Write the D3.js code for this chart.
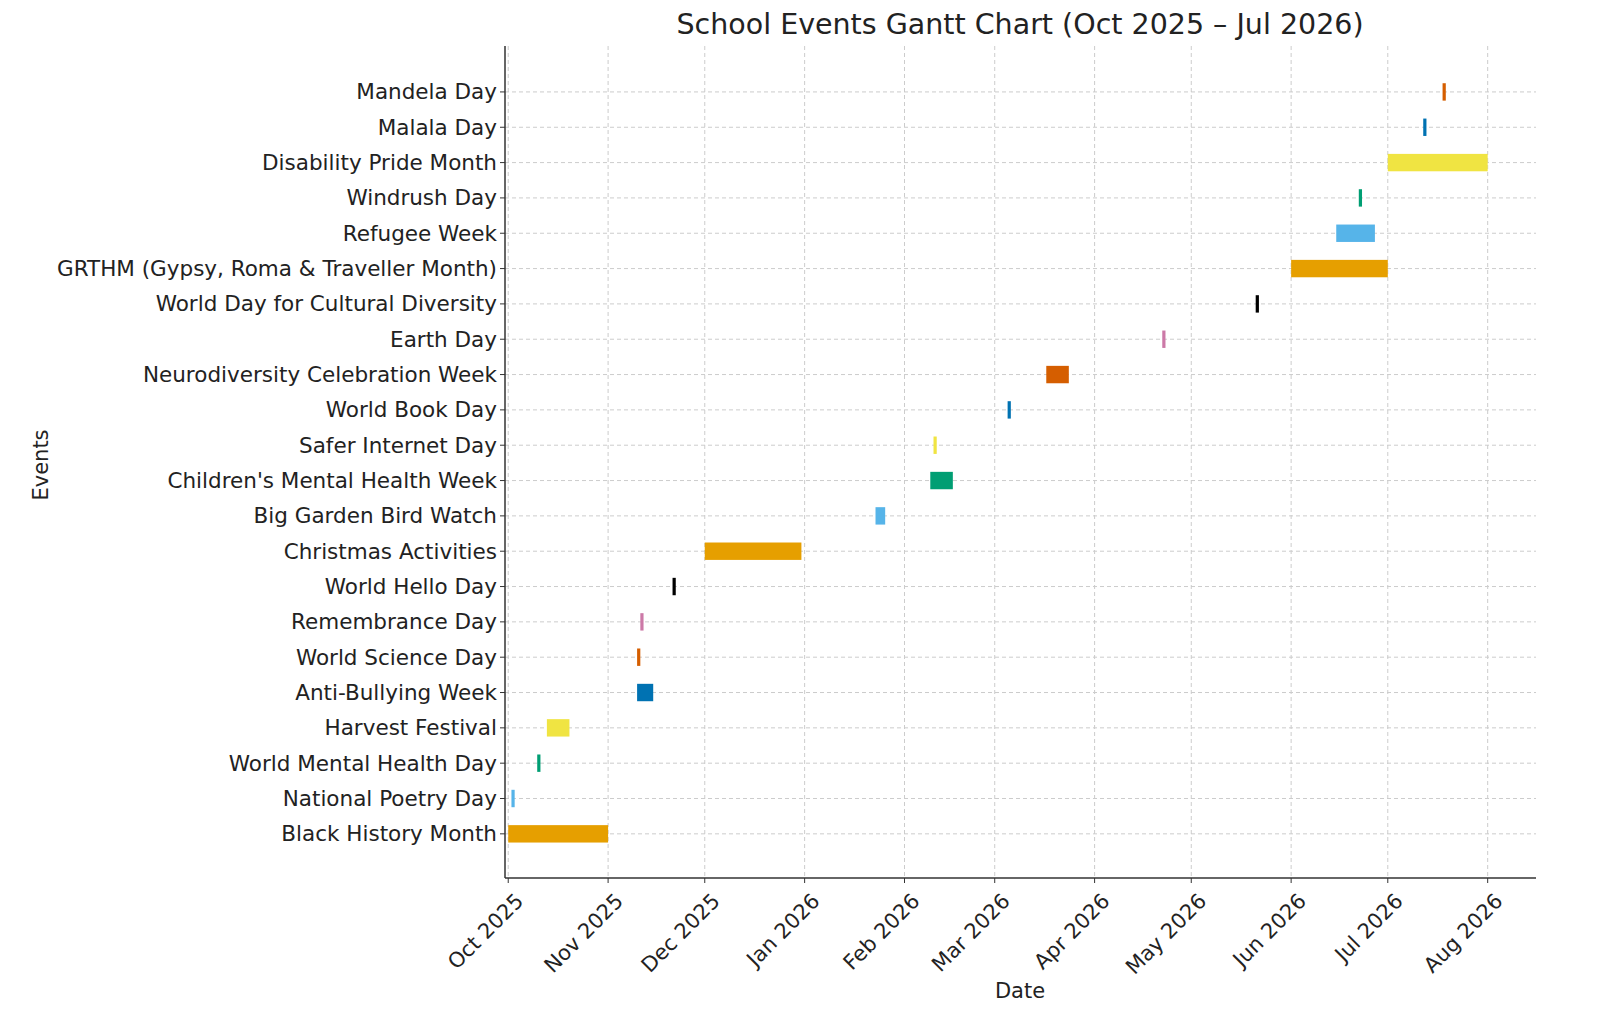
<!DOCTYPE html><html><head><meta charset="utf-8">
<script src="https://cdn.jsdelivr.net/npm/d3@7"></script>
<style>body{margin:0;background:#fff}text{font-family:"DejaVu Sans",sans-serif;fill:#222}</style></head><body>
<svg id="c" width="1600" height="1009"></svg>
<script>
const events=["Black History Month","National Poetry Day","World Mental Health Day","Harvest Festival","Anti-Bullying Week","World Science Day","Remembrance Day","World Hello Day","Christmas Activities","Big Garden Bird Watch","Children's Mental Health Week","Safer Internet Day","World Book Day","Neurodiversity Celebration Week","Earth Day","World Day for Cultural Diversity","GRTHM (Gypsy, Roma & Traveller Month)","Refugee Week","Windrush Day","Disability Pride Month","Malala Day","Mandela Day"];
const starts=["2025-10-01","2025-10-02","2025-10-10","2025-10-13","2025-11-10","2025-11-10","2025-11-11","2025-11-21","2025-12-01","2026-01-23","2026-02-09","2026-02-10","2026-03-05","2026-03-17","2026-04-22","2026-05-21","2026-06-01","2026-06-15","2026-06-22","2026-07-01","2026-07-12","2026-07-18"];
const ends=["2025-11-01","2025-10-03","2025-10-11","2025-10-20","2025-11-15","2025-11-11","2025-11-12","2025-11-22","2025-12-31","2026-01-26","2026-02-16","2026-02-11","2026-03-06","2026-03-24","2026-04-23","2026-05-22","2026-07-01","2026-06-27","2026-06-23","2026-08-01","2026-07-13","2026-07-19"];
const palette=["#E69F00","#56B4E9","#009E73","#F0E442","#0072B2","#D55E00","#CC79A7","#000000"];
const tickLabels=["Oct 2025","Nov 2025","Dec 2025","Jan 2026","Feb 2026","Mar 2026","Apr 2026","May 2026","Jun 2026","Jul 2026","Aug 2026"];
const tickDates=["2025-10-01","2025-11-01","2025-12-01","2026-01-01","2026-02-01","2026-03-01","2026-04-01","2026-05-01","2026-06-01","2026-07-01","2026-08-01"];
const P=d3.utcParse("%Y-%m-%d");
const svg=d3.select("#c");
const L=505,R=1536,T=46,B=878;
const x=d3.scaleUtc().domain([P("2025-09-30"),P("2026-08-16")]).range([L,R]);
const y=d3.scaleLinear().domain([-1.25,22.3]).range([B,T]);
const g=svg.append("g");
tickDates.forEach(d=>g.append("line").attr("x1",x(P(d))).attr("x2",x(P(d))).attr("y1",T).attr("y2",B).attr("stroke","#ccc").attr("stroke-dasharray","4,3"));
events.forEach((e,i)=>g.append("line").attr("x1",L).attr("x2",R).attr("y1",y(i)).attr("y2",y(i)).attr("stroke","#ccc").attr("stroke-dasharray","4,3"));
events.forEach((e,i)=>{const x0=x(P(starts[i])),x1=x(P(ends[i]));
 g.append("rect").attr("x",x0).attr("width",Math.max(2.5,x1-x0)).attr("y",y(i)-8.7).attr("height",17.4).attr("fill",palette[i%8]);
 g.append("line").attr("x1",L-5).attr("x2",L).attr("y1",y(i)).attr("y2",y(i)).attr("stroke","#333");
 g.append("text").attr("x",L-8).attr("y",y(i)).attr("dy","0.35em").attr("text-anchor","end").attr("font-size",21.5).text(e);});
tickDates.forEach((d,i)=>{const xx=x(P(d));
 g.append("line").attr("x1",xx).attr("x2",xx).attr("y1",B).attr("y2",B+5).attr("stroke","#333");
 g.append("text").attr("transform",`translate(${xx+6},${B+14}) rotate(-45)`).attr("text-anchor","end").attr("dy","0.7em").attr("font-size",21).text(tickLabels[i]);});
g.append("line").attr("x1",L).attr("x2",L).attr("y1",T).attr("y2",B).attr("stroke","#333").attr("stroke-width",1.5);
g.append("line").attr("x1",L).attr("x2",R).attr("y1",B).attr("y2",B).attr("stroke","#333").attr("stroke-width",1.5);
svg.append("text").attr("x",1020).attr("y",34).attr("text-anchor","middle").attr("font-size",28.5).text("School Events Gantt Chart (Oct 2025 – Jul 2026)");
svg.append("text").attr("x",1020).attr("y",998).attr("text-anchor","middle").attr("font-size",21).text("Date");
svg.append("text").attr("transform","translate(48,465) rotate(-90)").attr("text-anchor","middle").attr("font-size",21).text("Events");
</script></body></html>
